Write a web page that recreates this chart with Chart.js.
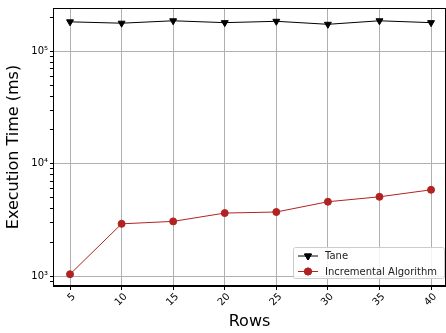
<!DOCTYPE html>
<html>
<head>
<meta charset="utf-8">
<script src="https://cdn.jsdelivr.net/npm/chart.js@4/dist/chart.umd.min.js"></script>
<style>
  html, body { margin: 0; padding: 0; background: #fff; }
  #wrap { width: 446px; height: 333px; }
</style>
</head>
<body>
<div id="wrap"><canvas id="chart" width="446" height="333"></canvas></div>
<script>
// data
const rows = [5, 10, 15, 20, 25, 30, 35, 40];
const taneTimes = [183000, 178000, 187000, 180000, 185000, 174000, 187000, 180000];
const incrementalTimes = [1040, 2920, 3070, 3640, 3720, 4590, 5080, 5860];
const seriesNames = ['Tane', 'Incremental Algorithm'];

const FONT = 'DejaVu Sans';
const isDecade = v => Math.abs(Math.log10(v) - Math.round(Math.log10(v))) < 1e-9;
const supers = { '0': '⁰', '1': '¹', '2': '²', '3': '³', '4': '⁴', '5': '⁵', '6': '⁶', '7': '⁷', '8': '⁸', '9': '⁹' };

// frame (top/right) like matplotlib axes
const framePlugin = {
    id: 'frame',
    afterDraw(chart) {
        const { ctx, chartArea: a } = chart;
        ctx.save();
        ctx.strokeStyle = '#000';
        ctx.lineWidth = 1;
        ctx.strokeRect(a.left + 0.5, a.top + 0.5, a.right - a.left - 1, a.bottom - a.top - 1);
        ctx.restore();
    }
};

// legend in the lower right of the plot area
const legendPlugin = {
    id: 'boxLegend',
    afterDraw(chart) {
        const { ctx, chartArea: a } = chart;
        const w = 151, h = 31;
        const x = 293, y = a.bottom - h - 8;
        ctx.save();
        ctx.fillStyle = 'rgba(255,255,255,0.85)';
        ctx.strokeStyle = '#cccccc';
        ctx.lineWidth = 1;
        ctx.beginPath();
        ctx.roundRect(x + 0.5, y + 0.5, w, h, 2);
        ctx.fill();
        ctx.stroke();
        ctx.font = '10px ' + FONT;
        ctx.textBaseline = 'middle';
        chart.data.datasets.forEach((ds, i) => {
            const cy = y + 9 + i * 15.5;
            ctx.strokeStyle = ds.borderColor;
            ctx.lineWidth = 1;
            ctx.beginPath();
            ctx.moveTo(x + 5, cy);
            ctx.lineTo(x + 25, cy);
            ctx.stroke();
            Chart.helpers.drawPoint(ctx, {
                pointStyle: ds.pointStyle,
                rotation: ds.pointRotation || 0,
                radius: ds.pointRadius,
                borderWidth: 1
            }, x + 15, cy);
            ctx.fillStyle = ds.pointBackgroundColor;
            ctx.strokeStyle = ds.pointBorderColor;
            ctx.fill();
            ctx.stroke();
            ctx.fillStyle = '#222';
            ctx.fillText(ds.label, x + 32, cy + 0.5);
        });
        ctx.restore();
    }
};

new Chart(document.getElementById('chart'), {
    type: 'line',
    data: {
        datasets: [
            {
                label: seriesNames[0],
                data: rows.map((r, i) => ({ x: r, y: taneTimes[i] })),
                borderColor: '#000000',
                backgroundColor: '#000000',
                pointBackgroundColor: '#000000',
                pointBorderColor: '#000000',
                pointStyle: 'triangle',
                pointRotation: 180,
                pointRadius: 4,
                borderWidth: 1,
                tension: 0
            },
            {
                label: seriesNames[1],
                data: rows.map((r, i) => ({ x: r, y: incrementalTimes[i] })),
                borderColor: '#b22222',
                backgroundColor: '#b22222',
                pointBackgroundColor: '#b22222',
                pointBorderColor: '#b22222',
                pointStyle: 'circle',
                pointRadius: 3.5,
                borderWidth: 1,
                tension: 0
            }
        ]
    },
    options: {
        responsive: false,
        animation: false,
        layout: { autoPadding: false, padding: { top: 4, right: 0, left: 0, bottom: 0 } },
        plugins: {
            legend: { display: false },
            tooltip: { enabled: false }
        },
        scales: {
            x: {
                type: 'linear',
                min: 3.35,
                max: 41.45,
                afterBuildTicks: scale => { scale.ticks = rows.map(v => ({ value: v })); },
                afterFit: scale => { scale.height = 47; },
                grid: { color: '#b0b0b0', tickColor: '#000', tickLength: 4, lineWidth: 1 },
                border: { color: '#000', width: 1 },
                ticks: {
                    color: '#000',
                    font: { family: FONT, size: 10 },
                    minRotation: 45,
                    maxRotation: 45,
                    labelOffset: 4,
                    padding: 1
                },
                title: {
                    display: true,
                    text: 'Rows',
                    color: '#000',
                    font: { family: FONT, size: 16 },
                    padding: { top: 0, bottom: 2 }
                }
            },
            y: {
                type: 'logarithmic',
                min: 817,
                max: 243000,
                afterBuildTicks: scale => {
                    const t = [];
                    for (let e = 2; e <= 5; e++) {
                        for (let m = 1; m <= 9; m++) {
                            const v = m * Math.pow(10, e);
                            if (v >= scale.min && v <= scale.max) t.push({ value: v });
                        }
                    }
                    scale.ticks = t;
                },
                afterFit: scale => { scale.width = 53; },
                grid: {
                    color: ctx => (ctx.tick && isDecade(ctx.tick.value)) ? '#b0b0b0' : 'rgba(0,0,0,0)',
                    tickColor: '#000',
                    tickLength: 3,
                    lineWidth: 1
                },
                border: { color: '#000', width: 1 },
                ticks: {
                    color: '#000',
                    font: { family: FONT, size: 10 },
                    padding: 2,
                    autoSkip: false,
                    callback: v => isDecade(v)
                        ? '10' + String(Math.round(Math.log10(v))).split('').map(c => supers[c]).join('')
                        : ''
                },
                title: {
                    display: true,
                    text: 'Execution Time (ms)',
                    color: '#000',
                    font: { family: FONT, size: 16 },
                    padding: { top: 4, bottom: 6 }
                }
            }
        }
    },
    plugins: [framePlugin, legendPlugin]
});
</script>
</body>
</html>
